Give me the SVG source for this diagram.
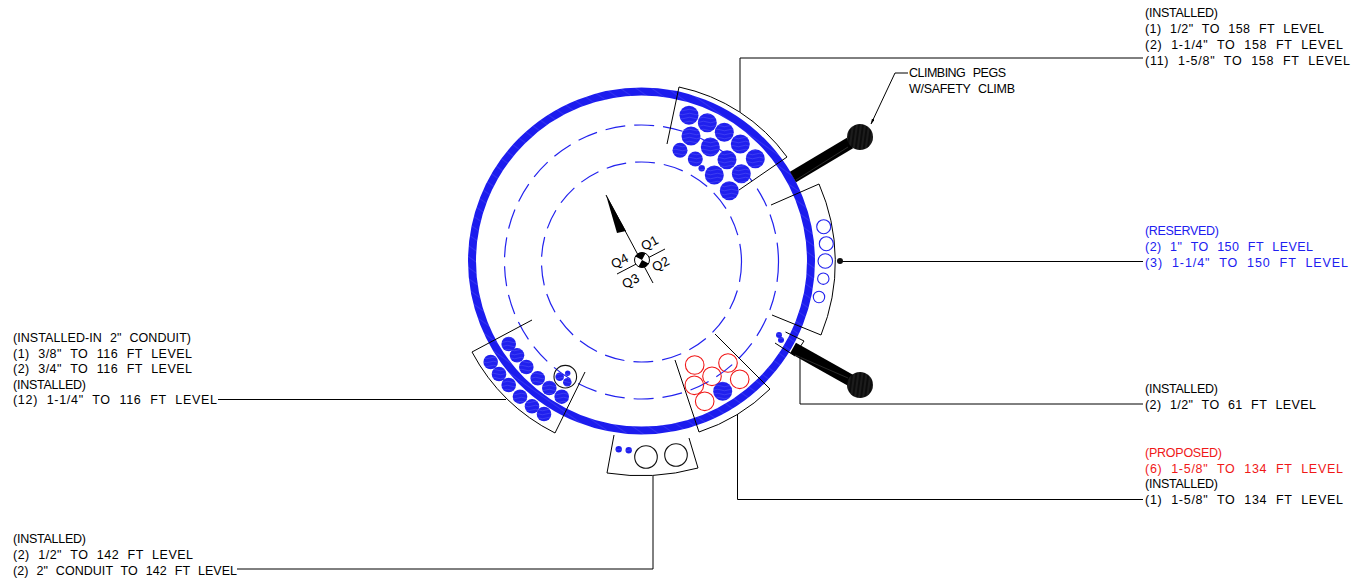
<svg xmlns="http://www.w3.org/2000/svg" width="1357" height="582" viewBox="0 0 1357 582">
<style>
text{font-family:"Liberation Sans",Arial,sans-serif;font-size:12.500px;word-spacing:4.500px;fill:#000}
text.b{fill:#2020f0}
text.r{fill:#f01818}
text.q{font-size:13px;word-spacing:0}
.ln{fill:none;stroke:#000;stroke-width:1}
.cb{fill:url(#hb)}
.ob{fill:none;stroke:#2222ee;stroke-width:1.1}
.or{fill:none;stroke:#f01818;stroke-width:1.1}
.ok{fill:none;stroke:#111;stroke-width:1.1}
.dash{fill:none;stroke:#2222ee;stroke-width:1.2;stroke-dasharray:20 9}
.peg{fill:none;stroke:#000;stroke-width:12}
.ball{fill:url(#hk)}
</style>
<defs>
<marker id="ah" markerWidth="6" markerHeight="4" refX="5.500" refY="1.500" orient="auto"><path d="M0 0L6 1.500L0 3Z" fill="#000"/></marker>
<pattern id="hb" width="14" height="4" patternUnits="userSpaceOnUse">
<rect width="14" height="4" fill="#2020ee"/>
<path d="M0 2Q3.500 0.500 7 2T14 2" fill="none" stroke="#4646f4" stroke-width="0.7"/>
</pattern>
<pattern id="hr" width="9" height="9" patternUnits="userSpaceOnUse" patternTransform="rotate(35)">
<rect width="9" height="9" fill="#1c1cee"/>
<path d="M0 4.500H9" stroke="#3c3cf2" stroke-width="0.7"/>
</pattern>
<pattern id="hk" width="4" height="30" patternUnits="userSpaceOnUse" patternTransform="rotate(8)">
<rect width="4" height="30" fill="#0c0c0c"/>
<path d="M2 0V30" stroke="#333" stroke-width="0.8"/>
</pattern>
</defs>
<g id="tower">
<circle cx="641.500" cy="262" r="137" class="dash"/>
<circle cx="641.500" cy="262" r="100" class="dash"/>
<circle cx="641.500" cy="261" r="169.500" fill="none" stroke="url(#hr)" stroke-width="8"/>
</g>
<g id="north-arrow">
<path class="ln" d="M606 195L653 283M617 274L665 249"/>
<path d="M606 195L617 233L626 231Z" fill="#000"/>
<circle cx="642" cy="260" r="7.500" fill="#fff" stroke="#000"/>
<path d="M642 260L635.400 256.500A7.500 7.500 0 0 1 645.500 253.400ZM642 260L648.600 263.500A7.500 7.500 0 0 1 638.500 266.600Z" fill="#000"/>
<text class="q" transform="translate(644 251) rotate(-28)">Q1</text>
<text class="q" transform="translate(655 272) rotate(-28)">Q2</text>
<text class="q" transform="translate(625 289) rotate(-28)">Q3</text>
<text class="q" transform="translate(614 269) rotate(-28)">Q4</text>
</g>
<g id="climbing-pegs">
<path class="peg" d="M793 177L850 143"/>
<path d="M796 180L848 147" stroke="#555" stroke-width="0.5" fill="none"/>
<circle cx="860" cy="137" r="13" class="ball"/>
<path class="peg" d="M793 348L850 380"/>
<path d="M795 355L848 378" stroke="#555" stroke-width="0.5" fill="none"/>
<circle cx="860" cy="385" r="13" class="ball"/>
<text x="909" y="77" textLength="97">CLIMBING PEGS</text>
<text x="909" y="93" textLength="106">W/SAFETY CLIMB</text>
</g>
<g id="connectors">
<path class="ln" d="M740 112V58H1143"/>
<path class="ln" d="M908 73H895L871 124" marker-end="url(#ah)"/>
<path class="ln" d="M840 261.500H1143"/>
<path class="ln" d="M800 357V404H1143"/>
<path class="ln" d="M737.500 414V499.500H1143"/>
<path class="ln" d="M653 476V569H237"/>
<path class="ln" d="M218 399.500H506"/>
</g>
<g id="bundle-top">
<path class="ln" d="M667 144L679 87A179 179 0 0 1 787 157L739 190"/>
<g class="cb">
<circle cx="689" cy="115.300" r="9.500"/><circle cx="707.300" cy="122.700" r="9.500"/><circle cx="724.300" cy="132.300" r="9.500"/><circle cx="740.300" cy="144" r="9.500"/><circle cx="755.300" cy="158.700" r="9.500"/>
<circle cx="691" cy="136" r="9.500"/><circle cx="710.300" cy="147" r="9.500"/><circle cx="727" cy="159.700" r="9.500"/><circle cx="741.300" cy="173.700" r="9.500"/>
<circle cx="680" cy="150.300" r="7.500"/><circle cx="695.300" cy="159" r="7.500"/><circle cx="701.700" cy="168.300" r="3.200"/>
<circle cx="714.300" cy="175" r="9.500"/><circle cx="729.300" cy="190.700" r="9.500"/>
</g>
</g>
<g id="bundle-right">
<path class="ln" d="M771 205L819 184A194 194 0 0 1 821 335L772 315"/>
<circle cx="823.700" cy="226.700" r="7" class="ob"/><circle cx="826.300" cy="243.700" r="7" class="ob"/><circle cx="825.300" cy="261" r="7.300" class="ob"/><circle cx="823.300" cy="278.700" r="5.700" class="ob"/><circle cx="819" cy="297" r="5.700" class="ob"/>
<circle cx="840" cy="261" r="3" fill="#111"/>
</g>
<g id="bundle-small">
<path class="ln" d="M785.500 332L804 341L800 347M775 343L795 356"/>
<circle cx="779" cy="335" r="3" class="cb"/><circle cx="781" cy="340" r="3" class="cb"/>
</g>
<g id="bundle-bottom-right">
<path class="ln" d="M675 360L699 432A181 181 0 0 0 770 389L715 334"/>
<circle cx="694.700" cy="365" r="9.300" class="or"/><circle cx="728" cy="363" r="9.300" class="or"/><circle cx="712" cy="376.300" r="9.300" class="or"/><circle cx="739.700" cy="379.300" r="9.300" class="or"/><circle cx="694.300" cy="385.300" r="9.300" class="or"/><circle cx="704.700" cy="401.300" r="9.300" class="or"/>
<circle cx="722.700" cy="391.300" r="9.500" class="cb"/>
</g>
<g id="bundle-bottom">
<path class="ln" d="M614 435L607 473A215 215 0 0 0 698 468L689 438"/>
<circle cx="618.700" cy="449.300" r="3.200" class="cb"/><circle cx="628.700" cy="450.300" r="3.200" class="cb"/>
<circle cx="646" cy="457" r="11.300" class="ok"/><circle cx="676" cy="455" r="11.300" class="ok"/>
</g>
<g id="bundle-left">
<path class="ln" d="M532 320L472 352A192 192 0 0 0 555 433L585 372"/>
<g class="cb">
<circle cx="508.700" cy="344" r="7.300"/><circle cx="517" cy="355.300" r="7.300"/><circle cx="526.300" cy="367" r="7.300"/><circle cx="537.700" cy="378.300" r="7.300"/><circle cx="549.300" cy="388" r="7.300"/><circle cx="561.700" cy="396.700" r="7.300"/>
<circle cx="490.700" cy="362" r="7.300"/><circle cx="499" cy="374" r="7.300"/><circle cx="508.700" cy="385" r="7.300"/><circle cx="520" cy="396.700" r="7.300"/><circle cx="532" cy="406.300" r="7.300"/><circle cx="544" cy="414" r="7.300"/>
</g>
<circle cx="565.300" cy="376.700" r="11.300" class="ok"/>
<g class="cb"><circle cx="559.700" cy="376.700" r="4.300"/><circle cx="567.700" cy="373.300" r="2.700"/><circle cx="567.300" cy="382.300" r="4.300"/></g>
</g>
<g id="labels-top-right">
<text x="1145" y="17" textLength="73">(INSTALLED)</text>
<text x="1145" y="33" textLength="179">(1) 1/2" TO 158 FT LEVEL</text>
<text x="1145" y="49" textLength="198">(2) 1-1/4" TO 158 FT LEVEL</text>
<text x="1145" y="65" textLength="205">(11) 1-5/8" TO 158 FT LEVEL</text>
</g>
<g id="labels-reserved">
<text class="b" x="1145" y="235" textLength="74">(RESERVED)</text>
<text class="b" x="1145" y="251" textLength="168">(2) 1" TO 150 FT LEVEL</text>
<text class="b" x="1145" y="267" textLength="203">(3) 1-1/4" TO 150 FT LEVEL</text>
</g>
<g id="labels-61">
<text x="1145" y="393" textLength="73">(INSTALLED)</text>
<text x="1145" y="409" textLength="171">(2) 1/2" TO 61 FT LEVEL</text>
</g>
<g id="labels-134">
<text class="r" x="1145" y="457" textLength="77">(PROPOSED)</text>
<text class="r" x="1145" y="473" textLength="198">(6) 1-5/8" TO 134 FT LEVEL</text>
<text x="1145" y="488" textLength="73">(INSTALLED)</text>
<text x="1145" y="504" textLength="198">(1) 1-5/8" TO 134 FT LEVEL</text>
</g>
<g id="labels-116">
<text x="13" y="342" textLength="178">(INSTALLED-IN 2" CONDUIT)</text>
<text x="13" y="358" textLength="179">(1) 3/8" TO 116 FT LEVEL</text>
<text x="13" y="373" textLength="179">(2) 3/4" TO 116 FT LEVEL</text>
<text x="13" y="389" textLength="73">(INSTALLED)</text>
<text x="13" y="404" textLength="204">(12) 1-1/4" TO 116 FT LEVEL</text>
</g>
<g id="labels-142">
<text x="13" y="543" textLength="73">(INSTALLED)</text>
<text x="13" y="559" textLength="180">(2) 1/2" TO 142 FT LEVEL</text>
<text x="13" y="575" textLength="224">(2) 2" CONDUIT TO 142 FT LEVEL</text>
</g>
</svg>
